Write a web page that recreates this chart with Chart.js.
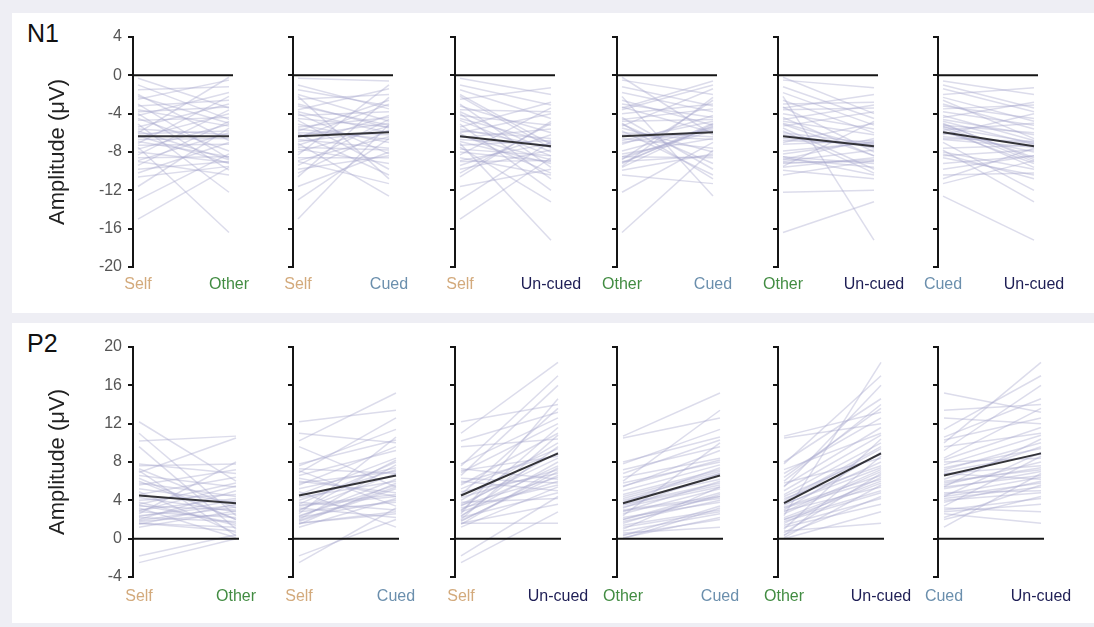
<!DOCTYPE html>
<html><head><meta charset="utf-8">
<script src="https://cdn.jsdelivr.net/npm/chart.js@4"></script>
<style>
html,body{margin:0;padding:0;background:#eeeef4;}
body{width:1094px;height:627px;position:relative;overflow:hidden;font-family:"Liberation Sans",Arial,sans-serif;}
.box{position:absolute;background:#fff;}
.lbl{position:absolute;font-size:25px;line-height:25px;color:#111;}
canvas{position:absolute;}
</style></head><body>
<div class="box" style="left:12px;top:13px;width:1082px;height:300px"></div>
<div class="box" style="left:12px;top:323px;width:1082px;height:300px"></div>
<div class="lbl" style="left:27px;top:21px">N1</div>
<div class="lbl" style="left:27px;top:331px">P2</div>
<script>
// ---- data (one value per participant, same order in every array) ----
const conditions = ['Self', 'Other', 'Cued', 'Un-cued'];
const conditionColors = ['#d3aa7c', '#428c42', '#6b8fad', '#1e1e55'];
const panelPairs = [[0,1],[0,2],[0,3],[1,2],[1,3],[2,3]];

const n1Self   = [-0.3,-1.5,-2.0,-2.5,-3.0,-3.2,-3.6,-3.8,-4.0,-4.2,-4.5,-4.7,-5.1,-5.4,-5.6,-5.8,-6.0,-6.1,-6.3,-6.5,-6.7,-6.9,-7.1,-7.3,-7.5,-7.7,-8.0,-8.3,-8.6,-8.9,-9.0,-9.4,-9.8,-10.2,-10.6,-11.6,-13.0,-15.0,-1.0,-2.2];
const n1Other  = [-3.4,-1.2,-6.8,-0.5,-8.7,-2.6,-5.3,-3.3,-9.9,-1.8,-7.9,-4.4,-12.2,-3.0,-6.2,-8.8,-0.2,-5.8,-9.2,-4.0,-6.6,-8.5,-2.2,-7.2,-16.4,-5.1,-9.1,-3.6,-8.5,-6.0,-10.4,-4.8,-9.0,-7.0,-9.5,-5.5,-8.2,-9.6,-4.6,-5.0];
const n1Cued   = [-0.6,-3.2,-4.8,-2.0,-5.5,-5.2,-1.4,-6.0,-8.2,-3.8,-5.4,-9.8,-7.0,-4.4,-6.7,-2.6,-6.2,-10.4,-5.0,-3.0,-7.6,-5.8,-12.6,-4.2,-7.8,-9.2,-5.3,-1.0,-8.6,-6.4,-11.3,-4.6,-8.4,-5.7,-2.3,-8.0,-6.6,-5.1,-3.5,-10.8];
const n1Uncued = [-2.0,-4.5,-7.2,-1.3,-9.6,-6.0,-3.8,-8.0,-10.8,-5.2,-7.0,-8.4,-12.0,-2.8,-7.5,-6.6,-4.0,-10.2,-8.8,-5.6,-7.3,-9.2,-17.2,-6.8,-13.2,-8.4,-9.0,-3.4,-10.4,-7.1,-8.9,-6.2,-7.8,-5.0,-4.8,-9.8,-6.9,-8.6,-3.1,-7.6];
const n1Means  = [-6.35, -6.35, -5.95, -7.4];

const p2Self   = [12.2,11.0,10.2,9.6,7.6,7.3,7.1,6.9,6.6,6.0,5.6,5.2,4.9,4.6,4.3,4.0,3.8,3.6,3.4,3.2,3.0,2.8,2.6,2.4,2.2,2.0,1.8,1.6,2.3,1.9,1.6,1.2,-1.8,-2.5,7.8,5.8,3.5,2.9,1.5,6.3];
const p2Other  = [6.0,2.4,10.7,1.0,7.8,3.2,0.3,10.5,5.4,2.0,7.2,3.8,0.6,6.4,2.8,4.6,1.4,5.8,3.0,0.1,4.2,2.2,8.0,3.5,1.8,5.0,2.6,0.8,4.0,3.3,1.2,2.9,0.4,0.0,6.8,4.4,1.6,5.5,3.6,2.0];
const p2Cued   = [13.4,10.0,15.2,5.4,11.4,6.8,3.4,12.6,9.2,4.8,9.6,7.4,1.2,8.4,6.0,7.2,3.0,8.0,4.4,2.2,6.8,3.8,10.6,5.6,4.0,7.7,5.2,2.6,6.2,5.4,2.8,4.2,2.0,3.2,10.3,7.0,4.6,8.2,5.8,4.4];
const p2Uncued = [14.0,18.4,13.2,10.4,17.0,6.2,8.6,12.0,16.0,5.0,11.0,9.4,6.8,13.6,7.2,10.0,4.2,8.4,9.0,5.6,7.6,6.0,14.6,8.0,4.8,10.8,7.0,1.6,9.6,6.6,3.6,5.4,4.4,2.8,12.6,8.8,6.4,11.6,7.4,5.8];
const p2Means  = [4.5, 3.7, 6.6, 8.9];

const n1TickValues = [-20,-16,-12,-8,-4,0,4];
const p2TickValues = [-4,0,4,8,12,16,20];

// ---- layout ----
const FONT = '"Liberation Sans", Arial, sans-serif';
Chart.defaults.font.family = FONT;
const axisX = [133, 293, 455, 617, 778, 938];
const rows = [
  {cond:[n1Self,n1Other,n1Cued,n1Uncued], means:n1Means, ticks:n1TickValues, areaTop:37, areaW:100, xmin:-0.055, xmax:1.044, labelPad:8},
  {cond:[p2Self,p2Other,p2Cued,p2Uncued], means:p2Means, ticks:p2TickValues, areaTop:347, areaW:106, xmin:-0.062, xmax:1.031, labelPad:10}
];
const LEFT = 90, RIGHT = 45, TOPPAD = 10, AREAH = 230, XAXISH = 35;

rows.forEach((row) => {
  panelPairs.forEach((pair, p) => {
    const cv = document.createElement('canvas');
    const w = LEFT + row.areaW + RIGHT, h = TOPPAD + AREAH + XAXISH;
    cv.width = w; cv.height = h;
    cv.style.left = (axisX[p] - LEFT) + 'px';
    cv.style.top = (row.areaTop - TOPPAD) + 'px';
    cv.style.width = w + 'px'; cv.style.height = h + 'px';
    document.body.appendChild(cv);

    const a = row.cond[pair[0]], b = row.cond[pair[1]];
    const datasets = [];
    datasets.push({data:[{x:row.xmin,y:0},{x:row.xmax,y:0}], borderColor:'#151515', borderWidth:2, pointRadius:0, order:0});
    datasets.push({data:[{x:0,y:row.means[pair[0]]},{x:1,y:row.means[pair[1]]}], borderColor:'#333338', borderWidth:2, pointRadius:0, order:1});
    for (let i = 0; i < a.length; i++) {
      datasets.push({data:[{x:0,y:a[i]},{x:1,y:b[i]}], borderColor:'rgba(168,168,206,0.40)', borderWidth:1.5, pointRadius:0, order:2});
    }
    const tv = row.ticks;
    new Chart(cv, {
      type:'line',
      data:{datasets},
      options:{
        responsive:false, animation:false, events:[],
        layout:{padding:{top:TOPPAD, right:RIGHT, left:0, bottom:0}},
        plugins:{legend:{display:false}, tooltip:{enabled:false}},
        scales:{
          x:{type:'linear', min:row.xmin, max:row.xmax,
             afterBuildTicks:s=>{ s.ticks=[{value:0},{value:1}]; },
             afterFit:s=>{ s.height = XAXISH; s.paddingLeft = 0; s.paddingRight = 0; },
             ticks:{callback:(v,i)=>conditions[pair[i]], color:ctx=>conditionColors[pair[ctx.index]],
                    font:{size:16}, padding:row.labelPad, maxRotation:0, autoSkip:false},
             grid:{display:false, drawTicks:false}, border:{display:false}},
          y:{type:'linear', min:tv[0], max:tv[tv.length-1], position:'left',
             afterBuildTicks:s=>{ s.ticks = tv.map(v=>({value:v})); },
             afterFit:s=>{ s.width = LEFT; s.paddingTop = 0; s.paddingBottom = 0; },
             ticks:{display:p===0, font:{size:16}, color:'#555', padding:6},
             grid:{drawOnChartArea:false, drawTicks:true, tickLength:5, color:'#151515', lineWidth:2},
             border:{display:true, color:'#151515', width:2},
             title:{display:p===0, text:'Amplitude (μV)', font:{size:22}, color:'#222', padding:{top:2,bottom:0}}}
        }
      }
    });
  });
});
</script>
</body></html>
